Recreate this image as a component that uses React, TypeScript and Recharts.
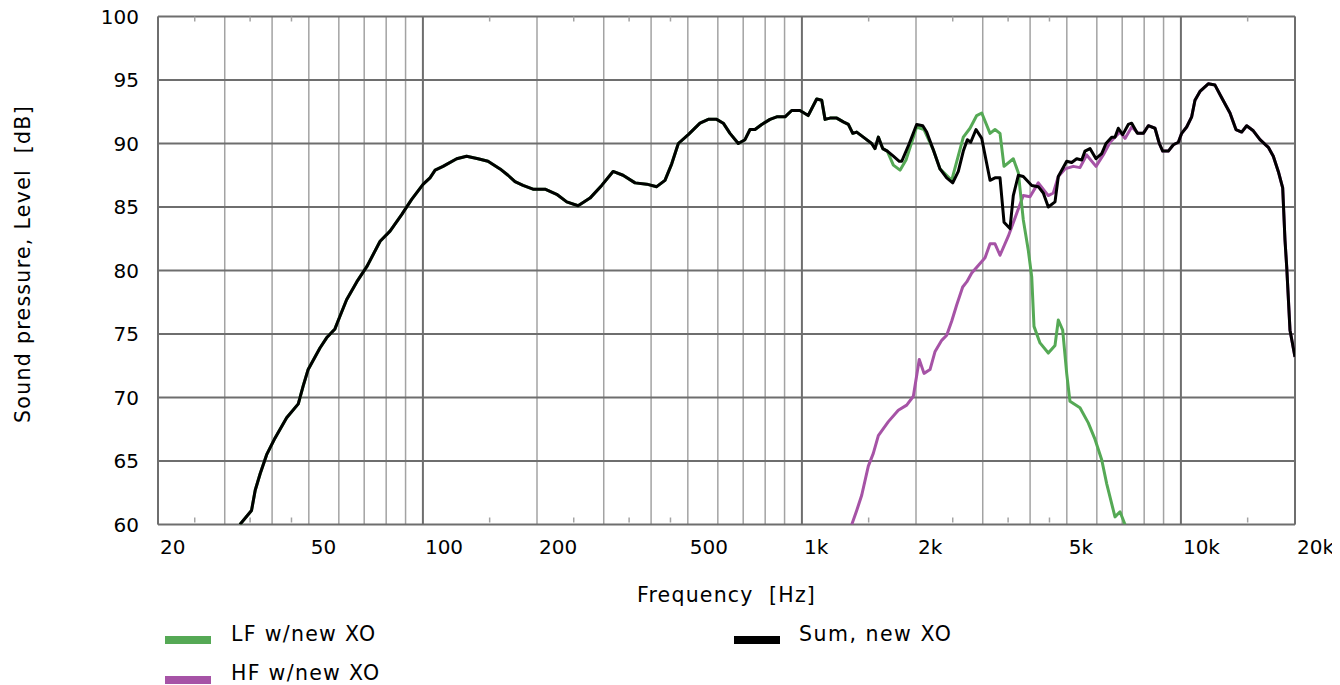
import React from 'react';
import { LineChart, Line, XAxis, YAxis, CartesianGrid } from 'recharts';

// ---------- data (frequency [Hz], level [dB]) ----------
const SUM_ROWS: number[][] = [
  [32.9, 60.0], [35.3, 61.1], [36.1, 62.7], [37.2, 64.0], [38.7, 65.5], [40.7, 66.8], [43.7, 68.4],
  [46.9, 69.5], [48.3, 70.9], [49.8, 72.2], [53.5, 73.9], [55.7, 74.7], [58.6, 75.4], [60.4, 76.4],
  [62.9, 77.7], [66.9, 79.1], [71.1, 80.3], [77.1, 82.3], [81.9, 83.1], [87.9, 84.4], [93.4, 85.6],
  [100.2, 86.8], [104.4, 87.3], [107.7, 87.9], [113, 88.2], [122.8, 88.8], [130.4, 89.0], [139.8, 88.8],
  [148.5, 88.6], [159.8, 88.0], [167.7, 87.5], [175, 87.0], [183.7, 86.7], [195.2, 86.4], [210, 86.4],
  [225.4, 86.0], [239.6, 85.4], [256.7, 85.1], [276, 85.7], [296.3, 86.7], [317.5, 87.8], [337.3, 87.5],
  [362.9, 86.9], [389.4, 86.8], [413.8, 86.6], [435.2, 87.1], [453.4, 88.4], [472, 90.0], [501.4, 90.7],
  [538.4, 91.6], [566.2, 91.9], [595.8, 91.9], [620.2, 91.6], [646, 90.8], [679.4, 90.0], [707.6, 90.3],
  [729.6, 91.1], [752, 91.1], [783.4, 91.5], [823.8, 91.9], [858.2, 92.1], [902.4, 92.1], [939.8, 92.6],
  [988.2, 92.6], [1039, 92.2], [1094, 93.5], [1128, 93.4], [1151, 91.9], [1186, 92.0], [1236, 92.0],
  [1286, 91.7], [1326, 91.5], [1362, 90.8], [1395, 90.9], [1467, 90.4], [1528, 90.0], [1559, 89.6],
  [1591, 90.5], [1634, 89.6], [1680, 89.4], [1743, 89.0], [1807, 88.6], [1834, 88.6], [1920, 90.0],
  [2008, 91.5], [2084, 91.4], [2134, 90.9], [2222, 89.5], [2314, 88.0], [2410, 87.3], [2500, 86.9],
  [2586, 87.8], [2666, 89.4], [2732, 90.3], [2789, 90.1], [2880, 91.1], [2982, 90.4], [3074, 88.4],
  [3136, 87.1], [3232, 87.3], [3332, 87.3], [3414, 83.8], [3540, 83.3], [3612, 85.9], [3724, 87.5],
  [3838, 87.4], [4040, 86.7], [4204, 86.6], [4334, 86.1], [4468, 85.0], [4654, 85.4], [4748, 87.4],
  [4996, 88.6], [5150, 88.5], [5310, 88.8], [5474, 88.7], [5584, 89.4], [5756, 89.6], [5970, 88.8],
  [6180, 89.2], [6344, 90.0], [6566, 90.5], [6700, 90.5], [6836, 91.2], [7022, 90.7], [7264, 91.5],
  [7416, 91.6], [7674, 90.8], [7958, 90.8], [8204, 91.4], [8544, 91.2], [8770, 90.0], [8954, 89.4],
  [9264, 89.4], [9550, 89.9], [9846, 90.1], [10046, 90.8], [10356, 91.3], [10676, 92.1], [10892, 93.4],
  [11228, 94.1], [11808, 94.7], [12300, 94.6], [12812, 93.6], [13474, 92.4], [13972, 91.1], [14466, 90.9],
  [14912, 91.4], [15524, 91.0], [16170, 90.3], [17008, 89.7], [17530, 89.0], [18070, 87.8], [18560, 86.5],
  [18820, 82.4], [19016, 80.3], [19402, 75.3], [20000, 73.2],
];

// LF follows the sum below this frequency, then its own tail
const LF_SPLIT_HZ = 1700;
const LF_TAIL_ROWS: number[][] = [
  [1743, 88.3], [1815, 87.9], [1882, 88.7], [2008, 91.3], [2100, 91.1], [2222, 89.5], [2314, 88.0],
  [2484, 87.1], [2666, 90.5], [2777, 91.2], [2892, 92.2], [2982, 92.4], [3136, 90.8], [3232, 91.1],
  [3332, 90.8], [3414, 88.2], [3612, 88.8], [3724, 87.7], [3838, 84.0], [3956, 81.6], [4040, 79.5],
  [4096, 75.6], [4248, 74.3], [4468, 73.5], [4654, 74.1], [4748, 76.1], [4876, 75.3], [4996, 71.9],
  [5096, 69.7], [5416, 69.2], [5696, 68.0], [5936, 66.7], [6180, 65.1], [6372, 63.2], [6700, 60.6],
  [6908, 61.0], [7120, 60.0],
];

// HF has its own head, then follows the sum above this frequency
const HF_SPLIT_HZ = 7720;
const HF_HEAD_ROWS: number[][] = [
  [1354, 60.0], [1395, 61.1], [1438, 62.3], [1497, 64.6], [1543, 65.6], [1591, 67.0], [1691, 68.1],
  [1796, 69.0], [1890, 69.4], [1968, 70.1], [2040, 73.0], [2100, 71.9], [2178, 72.2], [2244, 73.6],
  [2338, 74.5], [2410, 74.9], [2484, 76.0], [2562, 77.3], [2656, 78.7], [2722, 79.1], [2806, 79.8],
  [2920, 80.4], [3042, 81.0], [3136, 82.1], [3232, 82.1], [3332, 81.2], [3504, 82.7], [3688, 84.5],
  [3838, 85.9], [3998, 85.8], [4204, 86.9], [4468, 85.9], [4606, 86.1], [4748, 87.4], [4944, 88.0],
  [5200, 88.2], [5416, 88.1], [5640, 89.1], [5970, 88.2], [6240, 89.1], [6502, 90.1], [6908, 90.9],
  [7120, 90.4], [7416, 91.3], [7720, 90.8],
];

const X_TICKS = [20, 50, 100, 200, 500, 1000, 2000, 5000, 10000, 20000];
const X_TICK_LABELS = ['20', '50', '100', '200', '500', '1k', '2k', '5k', '10k', '20k'];
const X_GRID_MINOR = [30, 40, 50, 60, 70, 80, 90, 200, 300, 400, 500, 600, 700, 800, 900,
  2000, 3000, 4000, 5000, 6000, 7000, 8000, 9000];
const X_GRID_MAJOR = [20, 100, 1000, 10000, 20000];
const X_MINOR_TICKS = [25, 35, 45, 150, 250, 350, 450, 1500, 2500, 3500, 4500, 15000];
const Y_TICKS = [60, 65, 70, 75, 80, 85, 90, 95, 100];

const SERIES_NAMES = { lf: 'LF w/new XO', hf: 'HF w/new XO', sum: 'Sum, new XO' };
const X_TITLE = 'Frequency  [Hz]';
const Y_TITLE = 'Sound pressure, Level  [dB]';

// ---------- derived series ----------
const toPts = (rows: number[][]) => rows.map(([f, db]) => ({ f, db }));
const SUM = toPts(SUM_ROWS);
const LF = [...toPts(SUM_ROWS.filter(r => r[0] < LF_SPLIT_HZ)), ...toPts(LF_TAIL_ROWS)];
const HF = [...toPts(HF_HEAD_ROWS), ...toPts(SUM_ROWS.filter(r => r[0] > HF_SPLIT_HZ))];

// ---------- styles ----------
const W = 1332;
const H = 677;
const FONT = '"DejaVu Sans", Verdana, sans-serif';
const C_LF = '#55a955';
const C_HF = '#a653a6';
const C_SUM = '#000000';
const C_GRID_MINOR = '#a3a3a3';
const C_GRID_MAJOR = '#6e6e6e';

const XTick = (props: any) => {
  const { x, y, payload } = props;
  const i = X_TICKS.indexOf(payload.value);
  return (
    <text x={x + 2} y={y + 29.5} textAnchor="start" fontSize={20} fontFamily={FONT} fill="#000">
      {X_TICK_LABELS[i]}
    </text>
  );
};

const YTick = (props: any) => {
  const { x, y, payload } = props;
  return (
    <text x={x - 19} y={y + 7.2} textAnchor="end" fontSize={20} fontFamily={FONT} fill="#000">
      {payload.value}
    </text>
  );
};

const EmptyTick = () => <g />;

// helper axis (thin, mirrored) sharing the log frequency scale; used for grid lines and minor ticks
const helperAxis = (id: string, ticks: number[], orientation: 'top' | 'bottom', tickLine: any) => (
  <XAxis
    key={id}
    xAxisId={id}
    dataKey="f"
    type="number"
    scale="log"
    domain={[20, 20000]}
    allowDataOverflow
    ticks={ticks}
    interval={0}
    orientation={orientation}
    mirror
    tick={EmptyTick}
    axisLine={false}
    tickLine={tickLine}
    tickSize={5}
    tickMargin={0}
    height={1}
  />
);

export default function App() {
  return (
    <div style={{ position: 'relative', width: W, height: H, fontFamily: FONT }}>
      <LineChart width={W} height={H} margin={{ top: 8.5, right: 45, bottom: 130.5, left: 0 }}>
        <CartesianGrid xAxisId="gMinor" horizontal={false} vertical stroke={C_GRID_MINOR} strokeWidth={1.5} />
        <CartesianGrid xAxisId="gMajor" horizontal vertical stroke={C_GRID_MAJOR} strokeWidth={2} />
        <XAxis
          dataKey="f"
          type="number"
          scale="log"
          domain={[20, 20000]}
          allowDataOverflow
          ticks={X_TICKS}
          interval={0}
          tick={<XTick />}
          tickLine={false}
          axisLine={false}
          tickSize={0}
          tickMargin={0}
          height={30}
        />
        {helperAxis('gMinor', X_GRID_MINOR, 'bottom', false)}
        {helperAxis('gMajor', X_GRID_MAJOR, 'bottom', false)}
        {helperAxis('minorBottom', X_MINOR_TICKS, 'bottom', { stroke: C_GRID_MINOR, strokeWidth: 1.5 })}
        {helperAxis('minorTop', X_MINOR_TICKS, 'top', { stroke: C_GRID_MINOR, strokeWidth: 1.5 })}
        <YAxis
          type="number"
          domain={[60, 100]}
          allowDataOverflow
          ticks={Y_TICKS}
          interval={0}
          width={150}
          tick={<YTick />}
          tickLine={false}
          axisLine={false}
          tickSize={0}
          tickMargin={0}
        />
        <Line data={HF} dataKey="db" name={SERIES_NAMES.hf} type="linear" stroke={C_HF} strokeWidth={3}
          dot={false} isAnimationActive={false} strokeLinejoin="round" />
        <Line data={LF} dataKey="db" name={SERIES_NAMES.lf} type="linear" stroke={C_LF} strokeWidth={3}
          dot={false} isAnimationActive={false} strokeLinejoin="round" />
        <Line data={SUM} dataKey="db" name={SERIES_NAMES.sum} type="linear" stroke={C_SUM} strokeWidth={3}
          dot={false} isAnimationActive={false} strokeLinejoin="round" />
      </LineChart>
      <svg width={W} height={H} style={{ position: 'absolute', left: 0, top: 0, pointerEvents: 'none' }}>
        <text x={718.5} y={594} textAnchor="middle" fontSize={20.5} letterSpacing={1.2}
          fontFamily={FONT} fill="#000" style={{ whiteSpace: 'pre' }}>{X_TITLE}</text>
        <text transform="translate(21.5,256) rotate(-90)" textAnchor="middle" fontSize={20.5}
          letterSpacing={1.3} fontFamily={FONT} fill="#000" style={{ whiteSpace: 'pre' }}>{Y_TITLE}</text>
        <rect x={157} y={628} width={46} height={8} fill={C_LF} />
        <text x={223} y={633} fontSize={20.5} letterSpacing={1.3} fontFamily={FONT} fill="#000"
          style={{ whiteSpace: 'pre' }}>{SERIES_NAMES.lf}</text>
        <rect x={157} y={668} width={46} height={8} fill={C_HF} />
        <text x={223} y={672} fontSize={20.5} letterSpacing={1.3} fontFamily={FONT} fill="#000"
          style={{ whiteSpace: 'pre' }}>{SERIES_NAMES.hf}</text>
        <rect x={726} y={628} width={46} height={8} fill={C_SUM} />
        <text x={791} y={633} fontSize={20.5} letterSpacing={1.5} fontFamily={FONT} fill="#000"
          style={{ whiteSpace: 'pre' }}>{SERIES_NAMES.sum}</text>
      </svg>
    </div>
  );
}
